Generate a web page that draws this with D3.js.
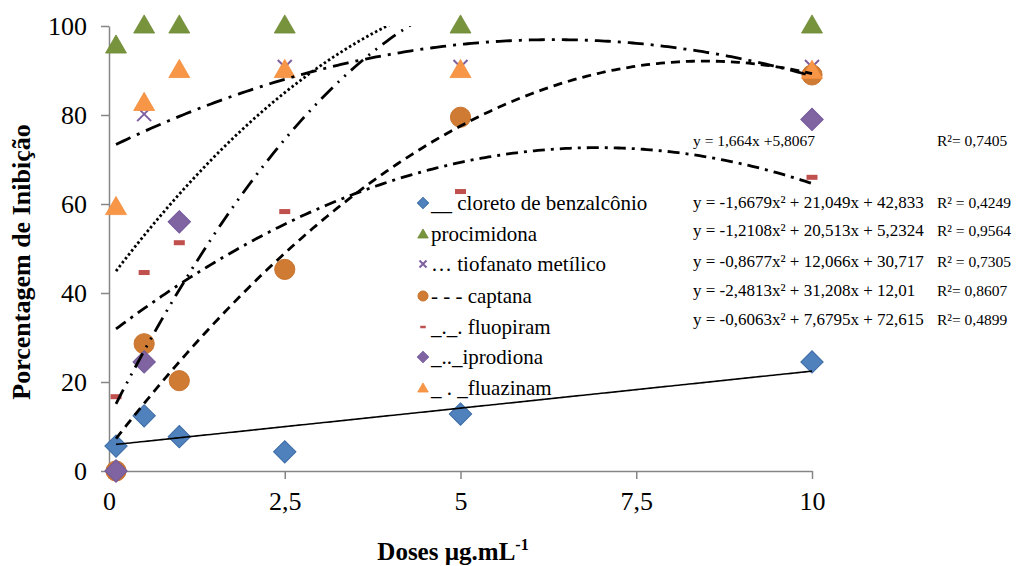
<!DOCTYPE html>
<html>
<head>
<meta charset="utf-8">
<script src="https://cdn.jsdelivr.net/npm/d3@7"></script>
<style>
  body { margin: 0; background: #fff; }
  svg, text { font-family: "Liberation Serif", "Times New Roman", serif; }
  text { fill: #000; }
</style>
</head>
<body>
<svg id="chart" width="1019" height="566"></svg>
<script>
// doses (x) and inhibition (%) per product
var doses = [0.1, 0.5, 1, 2.5, 5, 10];
var cloreto = [5.6, 12.4, 7.7, 4.3, 12.8, 24.5];
var procimidona = [95.5, 100, 100, 100, 100, 100];
var tiofanato = [0, 80.2, null, 90.8, 90.8, 90.8];
var captana = [0, 28.6, 20.3, 45.3, 79.5, 89];
var fluopiram = [16.7, 44.6, 51.3, 58.3, 62.8, 66];
var iprodiona = [0, 24.5, 56, null, null, 79];
var fluazinam = [59.2, 82.6, 90, 90, 90, 89.8];

var legendLabels = ["__ cloreto de benzalcônio", "procimidona", "\u2026 tiofanato metílico",
  "- - - captana", "_._. fluopiram", "_.._iprodiona", "_ . _fluazinam"];

// trend lines: coefficients [a, b, c] of y = a x² + b x + c
var trendCoef = [
  [0, 1.664, 5.8067],        // cloreto (linear)
  [-1.6679, 21.049, 42.833], // tiofanato
  [-1.2108, 20.513, 5.2324], // captana
  [-0.8677, 12.066, 30.717], // fluopiram
  [-2.4813, 31.208, 12.01],  // iprodiona
  [-0.6063, 7.6795, 72.615]  // fluazinam
];
var trendDash = ["none", "2.5,2.5", "9,6", "12,6,3,6", "16,7,2,7,2,7", "16,7,3,7"];

var eqTexts = ["y = 1,664x +5,8067", "y = -1,6679x\u00b2  + 21,049x + 42,833", "y = -1,2108x\u00b2 + 20,513x + 5,2324",
  "y = -0,8677x\u00b2 + 12,066x + 30,717", "y = -2,4813x\u00b2 + 31,208x + 12,01", "y = -0,6063x\u00b2 + 7,6795x + 72,615"];
var r2Texts = ["R\u00b2= 0,7405", "R\u00b2 = 0,4249", "R\u00b2 = 0,9564", "R\u00b2 = 0,7305", "R\u00b2= 0,8607", "R\u00b2= 0,4899"];

var yTicks = [0, 20, 40, 60, 80, 100];
var xTicks = [0, 2.5, 5, 7.5, 10];

var svg = d3.select("#chart");
var x = d3.scaleLinear().domain([0, 10]).range([109, 812]);
var y = d3.scaleLinear().domain([0, 100]).range([471, 26]);

svg.append("defs").append("clipPath").attr("id", "plotclip")
  .append("rect").attr("x", 109).attr("y", 26).attr("width", 720).attr("height", 445);

// axes
var gy = svg.append("g").attr("transform", "translate(109,0)")
  .call(d3.axisLeft(y).tickValues(yTicks).tickSize(8).tickSizeOuter(0).tickPadding(14));
gy.attr("font-family", "Liberation Serif").attr("font-size", 26);
gy.select(".domain").attr("stroke", "#868686").attr("stroke-width", 1.5);
gy.selectAll(".tick line").attr("stroke", "#868686").attr("stroke-width", 1.5);
gy.selectAll(".tick text").attr("fill", "#000");

var gx = svg.append("g").attr("transform", "translate(0,471)")
  .call(d3.axisBottom(x).tickValues(xTicks).tickSize(8).tickSizeOuter(0).tickPadding(13)
    .tickFormat(function(d) { return String(d).replace(".", ","); }));
gx.attr("font-family", "Liberation Serif").attr("font-size", 26);
gx.select(".domain").attr("stroke", "#868686").attr("stroke-width", 1.5);
gx.selectAll(".tick line").attr("stroke", "#868686").attr("stroke-width", 1.5);
gx.selectAll(".tick text").attr("fill", "#000");

// axis titles
svg.append("text")
  .attr("transform", "translate(30,262) rotate(-90)")
  .attr("text-anchor", "middle")
  .style("font-size", "26px").style("font-weight", "bold")
  .text("Porcentagem de Inibição");

var xt = svg.append("text")
  .attr("x", 453).attr("y", 560)
  .attr("text-anchor", "middle")
  .style("font-size", "25px").style("font-weight", "bold");
xt.append("tspan").text("Doses µg.mL");
xt.append("tspan").attr("dy", -10).style("font-size", "16px").text("-1");

// marker drawing
function sq(size) { return d3.symbol().type(d3.symbolSquare).size(size)(); }
function tri(size) { return d3.symbol().type(d3.symbolTriangle).size(size)(); }
function circ(size) { return d3.symbol().type(d3.symbolCircle).size(size)(); }

var series = [
  {vals: cloreto, kind: "diamond", fill: "#4F81BD", stroke: "#3B6BA5"},
  {vals: procimidona, kind: "triangle", fill: "#77933C", stroke: "#6E8A37"},
  {vals: tiofanato, kind: "x", fill: "none", stroke: "#7E60A0"},
  {vals: captana, kind: "circle", fill: "#D07B33", stroke: "#C9742D"},
  {vals: fluopiram, kind: "dash", fill: "#C0504D", stroke: "none"},
  {vals: iprodiona, kind: "diamond", fill: "#8064A2", stroke: "#72579A"},
  {vals: fluazinam, kind: "triangle", fill: "#F79646", stroke: "#F28E3F"}
];

function drawMarker(g, kind, fill, stroke, scale) {
  if (kind === "diamond") {
    g.append("path").attr("d", sq(250 * scale * scale)).attr("transform", "rotate(45)")
      .attr("fill", fill).attr("stroke", stroke).attr("stroke-width", 1);
  } else if (kind === "triangle") {
    g.append("path").attr("d", tri(190 * scale * scale)).attr("transform", "translate(0,1)")
      .attr("fill", fill).attr("stroke", stroke).attr("stroke-width", 0.8);
  } else if (kind === "circle") {
    g.append("path").attr("d", circ(320 * scale * scale)).attr("fill", fill).attr("stroke", stroke);
  } else if (kind === "x") {
    var h = 7 * scale;
    g.append("path").attr("d", "M" + (-h) + "," + (-h) + "L" + h + "," + h + "M" + (-h) + "," + h + "L" + h + "," + (-h))
      .attr("stroke", stroke).attr("stroke-width", 2).attr("fill", "none");
  } else if (kind === "dash") {
    g.append("rect").attr("x", -5.5 * scale).attr("y", -2.5 * scale)
      .attr("width", 11 * scale).attr("height", 5 * scale).attr("fill", fill);
  }
}

var pts = svg.append("g");
series.forEach(function(s) {
  doses.forEach(function(d, i) {
    if (s.vals[i] === null) return;
    var g = pts.append("g").attr("transform", "translate(" + x(d) + "," + y(s.vals[i]) + ")");
    drawMarker(g, s.kind, s.fill, s.stroke, 1);
  });
});

// trend lines (stop where a curve leaves the top of the plot)
var tl = svg.append("g").attr("clip-path", "url(#plotclip)");
var xs = d3.range(0.1, 10.0001, 0.05);
var line = d3.line().x(function(p) { return x(p[0]); }).y(function(p) { return y(p[1]); });
trendCoef.forEach(function(c, k) {
  var p = [];
  for (var i = 0; i < xs.length; i++) {
    var v = xs[i];
    var yy = c[0] * v * v + c[1] * v + c[2];
    p.push([v, yy]);
    if (yy > 100) break;
  }
  tl.append("path").attr("d", line(p)).attr("fill", "none").attr("stroke", "#000")
    .attr("stroke-width", k === 0 ? 1.6 : 2.8)
    .attr("stroke-dasharray", trendDash[k] === "none" ? null : trendDash[k]);
});

// legend
var legRows = [203, 234, 264, 296, 327, 357, 388];
var leg = svg.append("g");
legendLabels.forEach(function(t, i) {
  var g = leg.append("g").attr("transform", "translate(423," + legRows[i] + ")");
  var s = series[i];
  drawMarker(g, s.kind, s.fill, s.stroke, 0.5);
  g.append("text").attr("x", 8).attr("y", 7).style("font-size", "21px").text(t);
});

// equations
var eqRows = [146, 208, 236, 267, 296, 325];
eqTexts.forEach(function(t, i) {
  svg.append("text").attr("x", 693).attr("y", eqRows[i]).style("font-size", i === 0 ? "15.5px" : "17px").text(t);
  svg.append("text").attr("x", 937).attr("y", eqRows[i]).style("font-size", "15.5px").text(r2Texts[i]);
});
</script>
</body>
</html>
